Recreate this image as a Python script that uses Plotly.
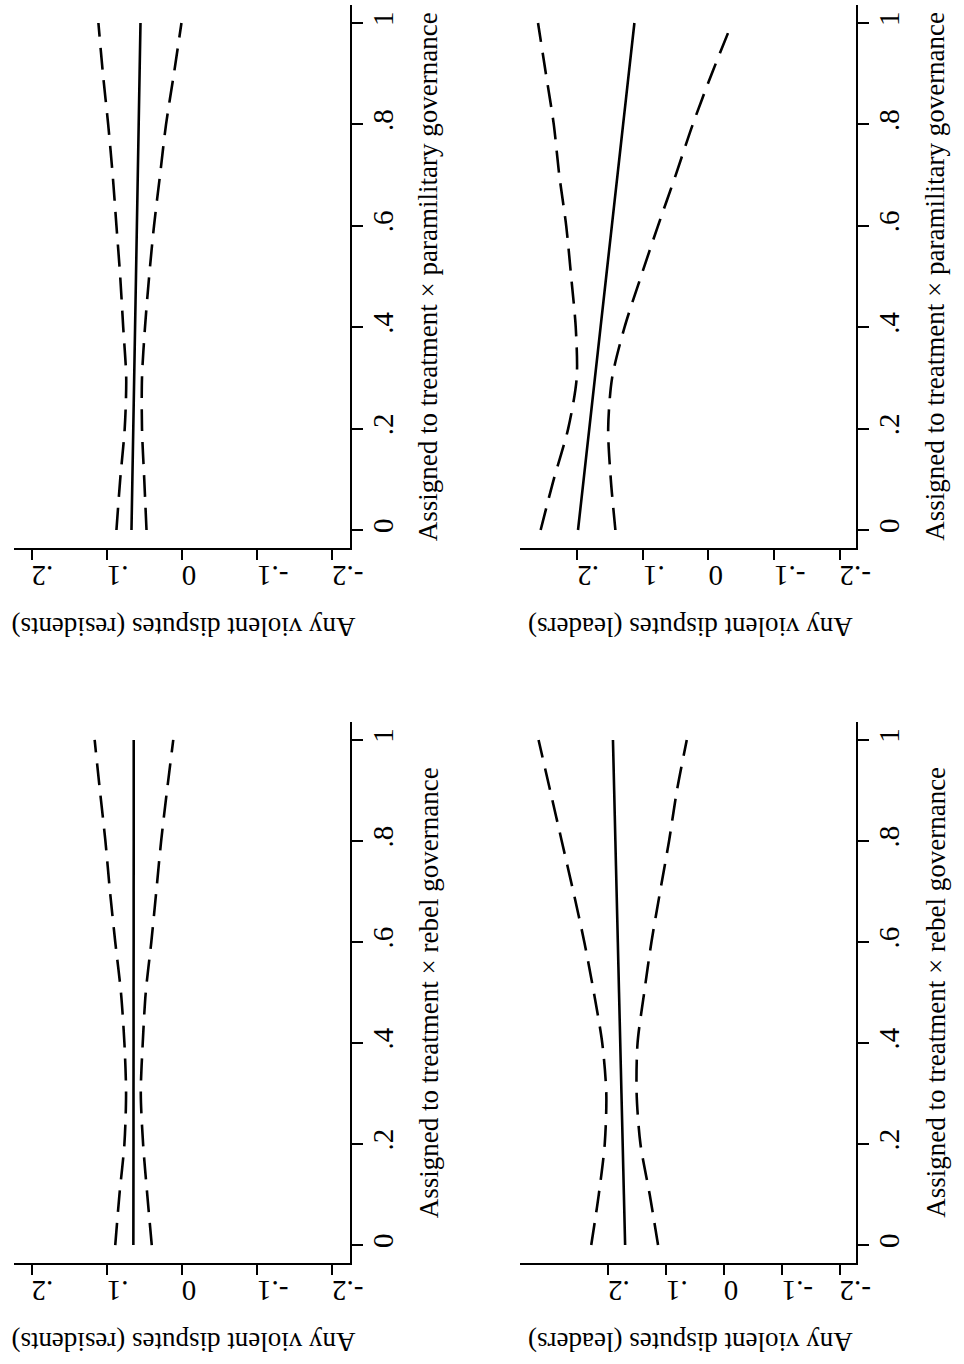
import plotly.graph_objects as go

# ---------------- data ----------------
share = [0, .1, .2, .3, .4, .5, .6, .7, .8, .9, 1]

# residents x paramilitary governance (top-left)
res_para_fit = [.067, .0658, .0646, .0634, .0622, .061, .0598, .0586, .0574, .0562, .055]
res_para_hi = [.087, .082, .076, .074, .078, .082, .087, .092, .098, .105, .111]
res_para_lo = [.047, .050, .053, .053, .049, .0435, .037, .029, .021, .0105, .0005]

# leaders x paramilitary governance (top-right)
lea_para_fit = [.199, .1904, .1818, .1732, .1646, .156, .1474, .1388, .1302, .1216, .113]
lea_para_hi = [.256, .236, .214, .201, .2025, .2095, .217, .2276, .236, .248, .260]
lea_para_lo = [.142, .149, .153, .147, .128, .103, .077, .050, .024, -.005, -.036]

# residents x rebel governance (bottom-left)
res_reb_fit = [.0645, .0644, .0643, .0643, .0642, .0642, .0641, .0641, .064, .064, .064]
res_reb_hi = [.0886, .083, .0764, .0742, .0764, .081, .0886, .0956, .1017, .109, .116]
res_reb_lo = [.040, .046, .0515, .0546, .052, .048, .0406, .034, .0275, .0197, .0114]

# leaders x rebel governance (bottom-right)
lea_reb_fit = [.1705, .1726, .1747, .1768, .1789, .181, .1831, .1852, .1873, .1894, .1915]
lea_reb_hi = [.229, .216, .2057, .203, .210, .2245, .241, .260, .280, .300, .320]
lea_reb_lo = [.1136, .128, .144, .1506, .149, .1375, .125, .110, .0946, .081, .064]

value_ticks = [-.2, -.1, 0, .1, .2]
value_ticktext = ["-.2", "-.1", "0", ".1", ".2"]
share_ticks = [0, .2, .4, .6, .8, 1]
share_ticktext = ["0", ".2", ".4", ".6", ".8", "1"]

value_titles = ["Any violent disputes (residents)", "Any violent disputes (leaders)",
                "Any violent disputes (residents)", "Any violent disputes (leaders)"]
share_titles = ["Assigned to treatment \u00d7 paramilitary governance",
                "Assigned to treatment \u00d7 paramilitary governance",
                "Assigned to treatment \u00d7 rebel governance",
                "Assigned to treatment \u00d7 rebel governance"]

panels = [
    (res_para_fit, res_para_hi, res_para_lo),
    (lea_para_fit, lea_para_hi, lea_para_lo),
    (res_reb_fit, res_reb_hi, res_reb_lo),
    (lea_reb_fit, lea_reb_hi, lea_reb_lo),
]

# ---------------- layout geometry (pixels) ----------------
W, H = 964, 1364
boxes = [  # x0, x1, y0(top), y1(bottom)
    (14, 355, 5, 548),
    (528, 869, 5, 548),
    (14, 355, 722, 1263),
    (528, 869, 722, 1263),
]
value_ranges = [[.2236, -.2236], [.287, -.2256], [.2236, -.2236], [.3515, -.229]]
share_range = [-.0355, 1.0355]

FONT = "Liberation Serif"
FS = 27
TFS = 29

fig = go.Figure()
layout = dict(
    width=W, height=H, margin=dict(l=0, r=0, t=0, b=0),
    paper_bgcolor="white", plot_bgcolor="white", showlegend=False,
    font=dict(family=FONT, size=FS, color="black"),
    annotations=[],
)

for i, (fit, hi, lo) in enumerate(panels):
    n = i + 1
    xa = "x" if n == 1 else f"x{n}"
    ya = "y" if n == 1 else f"y{n}"
    for vals, dash in ((hi, "22px,11px"), (lo, "22px,11px"), (fit, "solid")):
        fig.add_trace(go.Scatter(
            x=vals, y=share, xaxis=xa, yaxis=ya, mode="lines",
            line=dict(color="black", width=2.6, dash=dash, shape="spline", smoothing=0.8),
            hoverinfo="skip"))
    x0, x1, y0, y1 = boxes[i]
    xkey = "xaxis" if n == 1 else f"xaxis{n}"
    ykey = "yaxis" if n == 1 else f"yaxis{n}"
    layout[xkey] = dict(
        domain=[x0 / W, x1 / W], anchor=ya, range=value_ranges[i],
        side="bottom", showline=True, linecolor="black", linewidth=2,
        showgrid=False, zeroline=False, ticks="outside", ticklen=10,
        tickwidth=2, tickcolor="black", tickvals=value_ticks,
        ticktext=value_ticktext, tickangle=180,
        tickfont=dict(family=FONT, size=TFS, color="black"))
    layout[ykey] = dict(
        domain=[1 - y1 / H, 1 - y0 / H], anchor=xa, range=share_range,
        side="right", showline=True, linecolor="black", linewidth=2,
        showgrid=False, zeroline=False, ticks="outside", ticklen=11,
        tickwidth=2, tickcolor="black", tickvals=share_ticks,
        ticktext=share_ticktext, tickangle=-90, ticklabelstandoff=-5,
        tickfont=dict(family=FONT, size=TFS, color="black"))
    # value-axis title (upside down, below the plot)
    layout["annotations"].append(dict(
        text=value_titles[i], xref="paper", yref="paper",
        x=((x0 + x1) / 2 + 2) / W, y=1 - (y1 + 79) / H,
        xanchor="center", yanchor="middle", textangle=180, showarrow=False,
        font=dict(family=FONT, size=FS, color="black")))
    # share-axis title (reading bottom-to-top, right of the plot)
    layout["annotations"].append(dict(
        text=share_titles[i], xref="paper", yref="paper",
        x=(x1 + 80) / W, y=1 - ((y0 + y1) / 2) / H,
        xanchor="center", yanchor="middle", textangle=-90, showarrow=False,
        font=dict(family=FONT, size=FS, color="black")))

fig.update_layout(**layout)
fig.write_html("out.html")
